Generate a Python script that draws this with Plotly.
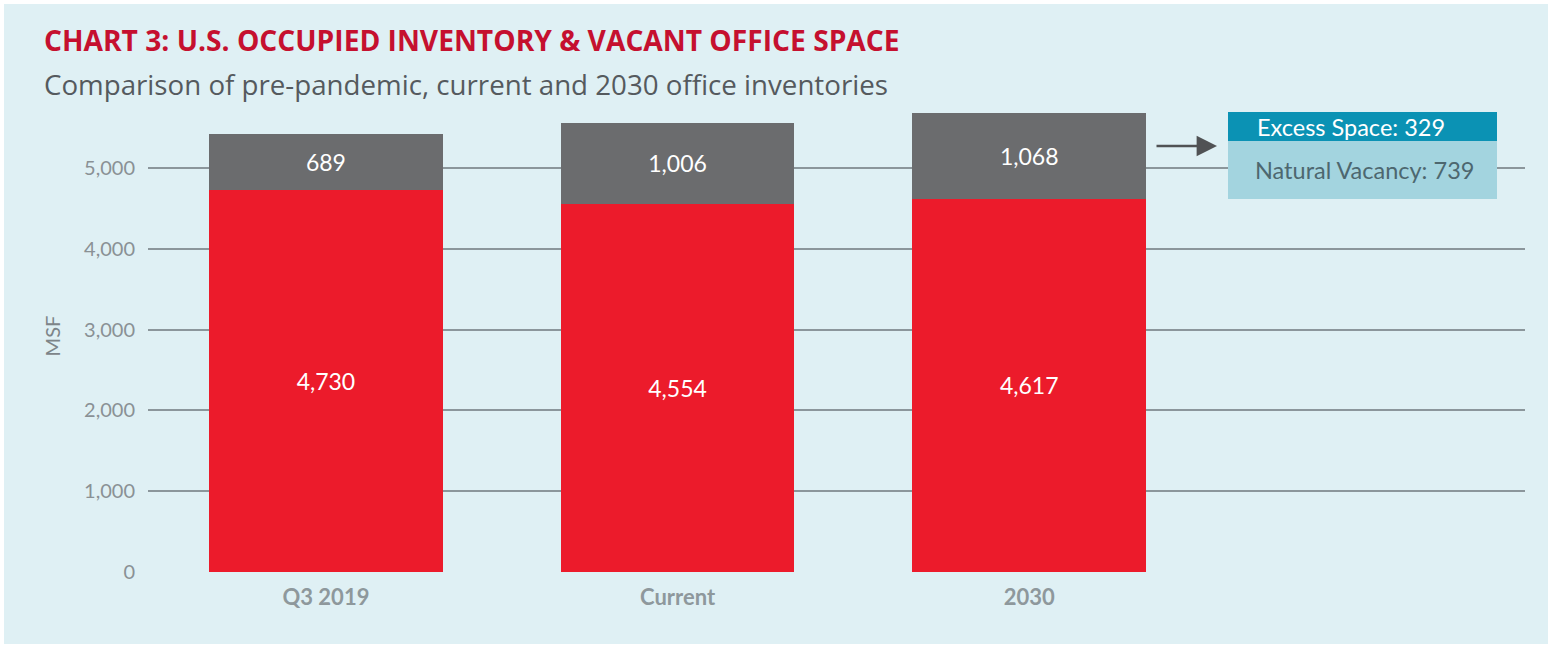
import plotly.graph_objects as go

categories = ["Q3 2019", "Current", "2030"]
occupied = [4730, 4554, 4617]
vacant = [689, 1006, 1068]
excess_space = 329
natural_vacancy = 739
y_ticks = [0, 1000, 2000, 3000, 4000, 5000]

W, H = 1552, 648
ML, MR, MT, MB = 148, 27, 100, 76
PW = W - ML - MR
PH = H - MT - MB

def px_x(px):
    return (px - ML) / PW

def px_y(py):
    return (H - MB - py) / PH

fig = go.Figure()
fig.add_trace(go.Bar(
    x=categories, y=occupied, name="Occupied",
    marker=dict(color="#ec1b2b", line=dict(width=0)),
    texttemplate="%{y:,}", textposition="inside", insidetextanchor="middle",
    textfont=dict(color="white", size=23, family="Lato"),
    width=0.665,
))
fig.add_trace(go.Bar(
    x=categories, y=vacant, name="Vacant",
    marker=dict(color="#6b6c6e", line=dict(width=0)),
    texttemplate="%{y:,}", textposition="inside", insidetextanchor="middle",
    textfont=dict(color="white", size=23, family="Lato"),
    width=0.665,
))

fig.update_layout(
    width=W, height=H,
    barmode="stack",
    showlegend=False,
    paper_bgcolor="#dff0f4",
    plot_bgcolor="rgba(0,0,0,0)",
    margin=dict(l=ML, r=MR, t=MT, b=MB, pad=0),
    font=dict(family="Lato", color="#888f93"),
    xaxis=dict(
        range=[-0.506, 3.41], showgrid=False, zeroline=False, showline=False,
        tickfont=dict(size=22, color="#8e989c", family="Lato", weight="bold"),
        ticks="outside", ticklen=6, tickcolor="rgba(0,0,0,0)",
    ),
    yaxis=dict(
        range=[0, 5842], tickvals=y_ticks, tickformat=",",
        showgrid=True, gridcolor="#8b969b", gridwidth=1.6,
        zeroline=False, showline=False,
        tickfont=dict(size=20, color="#8a9195", family="Lato"),
        ticks="outside", ticklen=8, tickcolor="rgba(0,0,0,0)",
        title=dict(text="MSF", font=dict(size=20, color="#7d8589", family="Lato"), standoff=18),
    ),
    annotations=[
        dict(text="<b>CHART 3: U.S. OCCUPIED INVENTORY &amp; VACANT OFFICE SPACE</b>",
             xref="paper", yref="paper", x=px_x(42), y=px_y(40), xanchor="left", yanchor="middle",
             showarrow=False, font=dict(size=28.2, color="#c5102f", family="Open Sans")),
        dict(text="Comparison of pre-pandemic, current and 2030 office inventories",
             xref="paper", yref="paper", x=px_x(42), y=px_y(84), xanchor="left", yanchor="middle",
             showarrow=False, font=dict(size=27.7, color="#555a5e", family="Open Sans")),
        dict(text="", xref="paper", yref="paper", x=px_x(1217), y=px_y(146),
             ax=-62, ay=0, showarrow=True, arrowhead=2, arrowsize=1.7, arrowwidth=2.4,
             arrowcolor="#505254"),
        dict(text=f"Excess Space: {excess_space}", xref="paper", yref="paper",
             x=px_x(1351), y=px_y(127), xanchor="center", yanchor="middle", showarrow=False,
             font=dict(size=23.5, color="white", family="Lato")),
        dict(text=f"Natural Vacancy: {natural_vacancy}", xref="paper", yref="paper",
             x=px_x(1364), y=px_y(170), xanchor="center", yanchor="middle", showarrow=False,
             font=dict(size=23.5, color="#4d676f", family="Lato")),
    ],
    shapes=[
        dict(type="rect", xref="paper", yref="paper",
             x0=px_x(1228), x1=px_x(1497), y0=px_y(141), y1=px_y(112),
             fillcolor="#0b92b4", line=dict(width=0)),
        dict(type="rect", xref="paper", yref="paper",
             x0=px_x(1228), x1=px_x(1497), y0=px_y(199), y1=px_y(141),
             fillcolor="#a3d4df", line=dict(width=0)),
        dict(type="rect", xref="paper", yref="paper",
             x0=px_x(0), x1=px_x(W), y0=px_y(H), y1=px_y(0),
             fillcolor="rgba(0,0,0,0)", line=dict(width=8, color="white")),
    ],
)

fig.write_html("out.html", config={"displayModeBar": False},
               post_script="document.body.style.margin='0';document.body.style.overflow='hidden';")
